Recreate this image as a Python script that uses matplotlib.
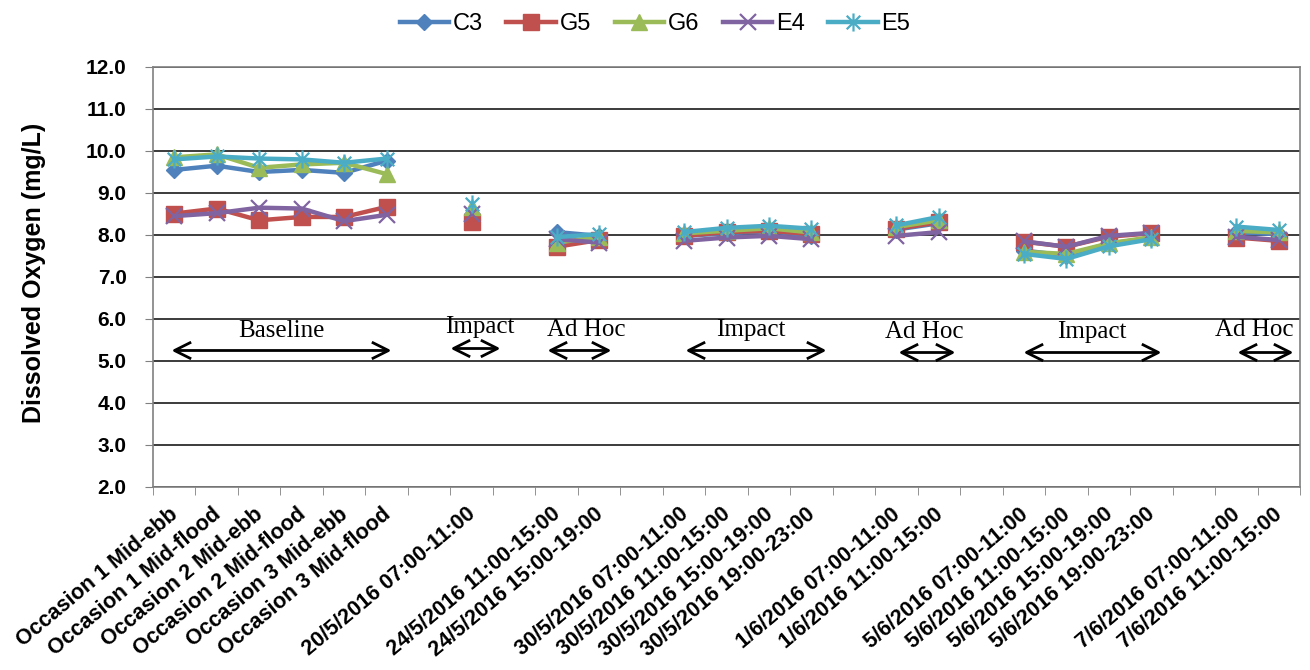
import numpy as np
import matplotlib
matplotlib.use("Agg")
import matplotlib.pyplot as plt
import matplotlib.transforms as mtransforms
from matplotlib.path import Path

nan = np.nan
categories = [
    "Occasion 1 Mid-ebb", "Occasion 1 Mid-flood", "Occasion 2 Mid-ebb",
    "Occasion 2 Mid-flood", "Occasion 3 Mid-ebb", "Occasion 3 Mid-flood", "",
    "20/5/2016 07:00-11:00", "",
    "24/5/2016 11:00-15:00", "24/5/2016 15:00-19:00", "",
    "30/5/2016 07:00-11:00", "30/5/2016 11:00-15:00", "30/5/2016 15:00-19:00",
    "30/5/2016 19:00-23:00", "",
    "1/6/2016 07:00-11:00", "1/6/2016 11:00-15:00", "",
    "5/6/2016 07:00-11:00", "5/6/2016 11:00-15:00", "5/6/2016 15:00-19:00",
    "5/6/2016 19:00-23:00", "",
    "7/6/2016 07:00-11:00", "7/6/2016 11:00-15:00",
]
C3 = [9.55, 9.65, 9.50, 9.55, 9.48, 9.77, nan, 8.50, nan, 8.07, 7.98, nan,
      7.98, 8.04, 8.09, 7.98, nan, 8.13, 8.28, nan, 7.63, 7.51, 7.80, 7.92, nan, 8.06, 8.02]
G5 = [8.51, 8.63, 8.35, 8.43, 8.43, 8.67, nan, 8.30, nan, 7.72, 7.88, nan,
      7.98, 8.07, 8.10, 8.02, nan, 8.15, 8.30, nan, 7.84, 7.72, 7.96, 8.04, nan, 7.94, 7.86]
G6 = [9.85, 9.92, 9.60, 9.68, 9.72, 9.45, nan, 8.67, nan, 7.82, 7.95, nan,
      8.04, 8.10, 8.16, 8.06, nan, 8.19, 8.35, nan, 7.60, 7.55, 7.80, 7.95, nan, 8.10, 8.06]
E4 = [8.45, 8.52, 8.65, 8.63, 8.33, 8.48, nan, 8.50, nan, 7.90, 7.82, nan,
      7.86, 7.94, 7.98, 7.90, nan, 7.98, 8.07, nan, 7.85, 7.72, 7.98, 8.05, nan, 7.96, 7.88]
E5 = [9.80, 9.87, 9.82, 9.80, 9.72, 9.82, nan, 8.75, nan, 7.95, 8.02, nan,
      8.07, 8.17, 8.22, 8.15, nan, 8.23, 8.43, nan, 7.55, 7.43, 7.73, 7.90, nan, 8.20, 8.12]
series_names = ["C3", "G5", "G6", "E4", "E5"]

# period annotations: (label, text x, text y, arrow start, arrow end, arrow y)
periods = [
    ("Baseline", 2.53, 5.71, 0.0, 5.03, 5.26),
    ("Impact", 7.19, 5.81, 6.56, 7.60, 5.30),
    ("Ad Hoc", 9.69, 5.74, 8.84, 10.20, 5.26),
    ("Impact", 13.57, 5.74, 12.09, 15.26, 5.26),
    ("Ad Hoc", 17.66, 5.70, 17.10, 18.30, 5.21),
    ("Impact", 21.59, 5.70, 20.06, 23.15, 5.21),
    ("Ad Hoc", 25.43, 5.74, 25.08, 26.26, 5.21),
]

colors = ["#4F81BD", "#C0504D", "#9BBB59", "#8064A2", "#4BACC6"]
star = Path([(0, -1), (0, 1), (-0.75, -0.75), (0.75, 0.75), (-0.75, 0.75), (0.75, -0.75)],
            [Path.MOVETO, Path.LINETO, Path.MOVETO, Path.LINETO, Path.MOVETO, Path.LINETO])
markers = ["D", "s", "^", "x", star]
msizes = [8, 11, 12, 12, 13]
head_left = Path([(2, 1), (0, 0), (2, -1)], [Path.MOVETO, Path.LINETO, Path.LINETO])
head_right = Path([(-2, 1), (0, 0), (-2, -1)], [Path.MOVETO, Path.LINETO, Path.LINETO])

plt.rcParams['font.family'] = ['Liberation Sans', 'DejaVu Sans']
fig = plt.figure(figsize=(13.1, 6.7), dpi=100)
ax = fig.add_axes([153/1310, 1-487/670, (1300-153)/1310, (487-67)/670])

x = np.arange(len(categories))
for name, vals, c, m, ms in zip(series_names, [C3, G5, G6, E4, E5], colors, markers, msizes):
    mk = dict(marker=m, markersize=ms, color=c, markerfacecolor=c, markeredgecolor=c)
    if m in ("x",) or isinstance(m, Path):
        mk["markeredgewidth"] = 1.6
    ax.plot(x, vals, lw=3.2, label=name, **mk)

ax.set_xlim(-0.5, len(categories) - 0.5)
ax.set_ylim(2.0, 12.0)
yt = np.arange(2, 12.01, 1.0)
ax.set_yticks(yt)
ax.set_yticklabels([f"{v:.1f}" for v in yt], fontsize=15, fontweight='bold')
ax.yaxis.grid(True, color="#1a1a1a", lw=1.2)
ax.set_axisbelow(True)
ax.tick_params(axis='y', length=6, direction='out', color="#808080", pad=13)

ax.set_xticks(x)
ax.set_xticklabels(categories, rotation=40, ha='right', va='top', fontsize=15.5, fontweight='bold')
ax.set_xticks(np.arange(-0.5, len(categories)), minor=True)
ax.tick_params(axis='x', which='major', length=0, pad=12)
ax.tick_params(axis='x', which='minor', length=6, direction='out', color="#808080")
shift = mtransforms.ScaledTranslation(8/100, 0, fig.dpi_scale_trans)
for lab in ax.get_xticklabels():
    lab.set_transform(lab.get_transform() + shift)

for s in ["left", "bottom", "right", "top"]:
    ax.spines[s].set_color("#808080")
    ax.spines[s].set_linewidth(1.2)

ax.set_ylabel("Dissolved Oxygen (mg/L)", fontsize=18, fontweight='bold')
ax.yaxis.set_label_coords(-0.093, 0.51)

for label, tx, ty, a0, a1, ay in periods:
    ax.text(tx, ty, label, ha='center', va='center', fontsize=18,
            family=['Liberation Serif', 'DejaVu Serif'])
    ax.plot([a0, a1], [ay, ay], color='black', lw=2, solid_capstyle='butt')
    ax.plot([a0], [ay], marker=head_left, markersize=24, markerfacecolor='none',
            markeredgecolor='black', markeredgewidth=2, linestyle='none')
    ax.plot([a1], [ay], marker=head_right, markersize=24, markerfacecolor='none',
            markeredgecolor='black', markeredgewidth=2, linestyle='none')

fig.legend(loc='upper center', bbox_to_anchor=(0.5, 1.012), ncol=5, frameon=False,
           fontsize=17, handlelength=2.1, columnspacing=1.0, handletextpad=0.15)

fig.savefig("out.png", dpi=100)
